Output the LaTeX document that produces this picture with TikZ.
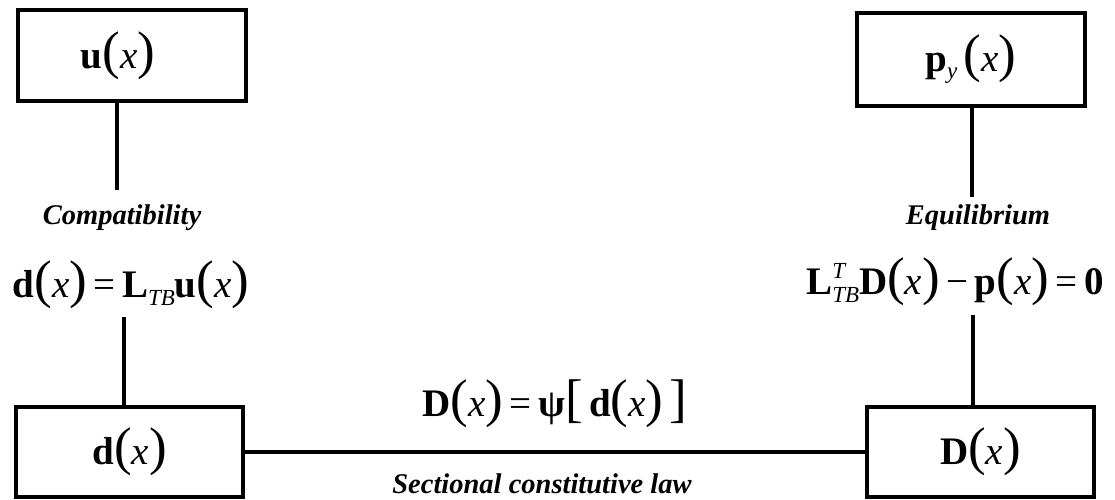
\documentclass[tikz,border=0pt]{standalone}
\usepackage{fontspec}
\setmainfont{Liberation Serif}
\usepackage{tikz}
\usetikzlibrary{positioning}
\newcommand{\eqfont}{\fontsize{39}{44}\selectfont}
\newcommand{\subfont}{\fontsize{23}{25}\selectfont}
\newcommand{\lp}{{\fontsize{53}{53}\selectfont(}}
\newcommand{\rp}{{\fontsize{53}{53}\selectfont)}}
\newcommand{\lb}{{\fontsize{53}{53}\selectfont[}}
\newcommand{\rb}{{\fontsize{53}{53}\selectfont]}}
\newcommand{\ix}{\textit{x}}
\tikzset{
  varbox/.style={draw, line width=4pt, inner sep=0pt, minimum width=228pt,
    minimum height=91pt, font=\eqfont},
  eqnode/.style={inner sep=0pt, font=\eqfont},
  lawlabel/.style={inner sep=0pt, font=\fontsize{28.5}{32}\selectfont\bfseries\itshape},
  link/.style={line width=4.5pt}
}

\begin{document}
\begin{tikzpicture}[x=1pt, y=-1pt]
  \useasboundingbox (0,0) rectangle (1115,500);
  % variable boxes
  \node[varbox] (ubox) at (132,55.5) {\hspace*{-28pt}\textbf{u}\lp\ix\rp};
  \node[varbox, minimum height=93pt] (pbox) at (971,59.5)
    {\textbf{p}\raisebox{-7pt}{\subfont\textit{y}}\,\lp\ix\rp};
  \node[varbox, minimum width=227pt, minimum height=90pt] (dbox) at (129.5,452) {\textbf{d}\lp\ix\rp};
  \node[varbox, minimum width=227pt, minimum height=90pt] (Dbox) at (980.5,452) {\textbf{D}\lp\ix\rp};

  % field equations and their names
  \node[lawlabel] (compat) at (122,218) {Compatibility};
  \node[eqnode] (compateq) at (131,285)
    {\textbf{d}\lp\ix\rp\,=\,\textbf{L}\raisebox{-8pt}{\subfont\textit{TB}}\textbf{u}\lp\ix\rp};
  \node[lawlabel] (equil) at (978,218) {Equilibrium};
  \node[eqnode] (equileq) at (955,282)
    {\textbf{L}\rlap{\raisebox{16pt}{\subfont\textit{T}}}\raisebox{-8pt}{\subfont\textit{TB}}\textbf{D}\lp\ix\rp\,−\,\textbf{p}\lp\ix\rp\,=\,\textbf{0}};
  \node[eqnode] (lawq) at (555,404) {\textbf{D}\lp\ix\rp\,=\,\textbf{ψ}\lb\,\textbf{d}\lp\ix\rp\,\rb};
  \node[lawlabel] (section) at (542,484) {Sectional constitutive law};

  % connectors
  \coordinate (ulow) at (117,190);
  \coordinate (dup) at (124,317);
  \coordinate (plow) at (972,197);
  \coordinate (Dup) at (973,315);
  \draw[link] (ulow |- ubox.south) -- (ulow);
  \draw[link] (dup) -- (dup |- dbox.north);
  \draw[link] (plow |- pbox.south) -- (plow);
  \draw[link] (Dup) -- (Dup |- Dbox.north);
  \draw[link] (dbox.east) -- (Dbox.west);
\end{tikzpicture}
\end{document}
